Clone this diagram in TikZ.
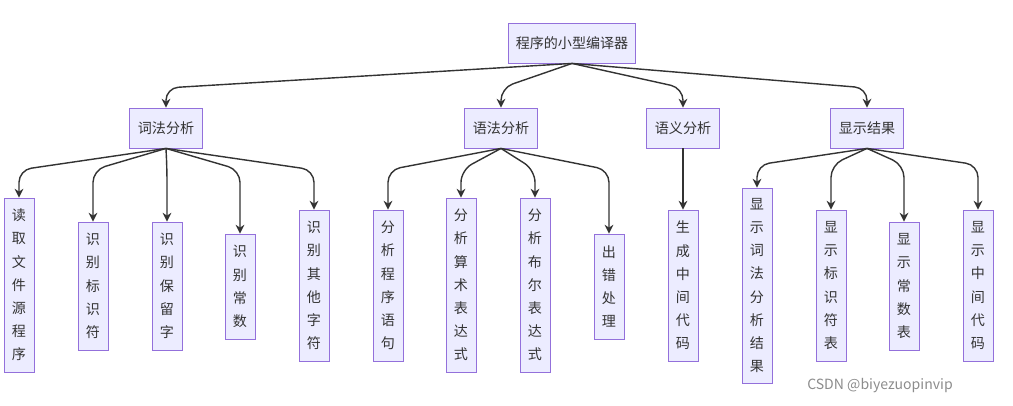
\documentclass[tikz,border=0pt]{standalone}
\usepackage{fontspec}
\setmainfont{Noto Sans CJK SC}
\usetikzlibrary{arrows.meta}
\definecolor{boxfill}{HTML}{ECECFF}
\definecolor{boxline}{HTML}{9370DB}
\definecolor{linkcol}{HTML}{333333}
\newcommand{\edgeto}[3]{\draw[link] (#1.south) -- (#2.north |- 0,#3) -- (#2.north);}

\begin{document}
\begin{tikzpicture}
		% STYLES
		\tikzstyle{box} = [draw=boxline, fill=boxfill, line width=0.5pt, inner sep=0pt, font=\fontsize{8}{13.2}\selectfont, text=linkcol]
		\tikzstyle{head} = [box, minimum width=1.46cm, minimum height=0.8cm]
		\tikzstyle{leaf} = [box, minimum width=0.6cm, minimum height=#1, text width=0.6cm, align=center]
		\tikzstyle{link} = [line width=0.8pt, draw=linkcol, rounded corners=7pt, -{Stealth[length=5pt,width=5pt]}]

		% FOND
		\useasboundingbox (0,0) rectangle (20.26,-8.12);

		% RACINE
		\node[box, minimum width=2.54cm, minimum height=0.8cm] (root) at (11.44,-0.86) {程序的小型编译器};

		% NIVEAU 2
		\node[head] (lex) at (3.32,-2.56) {词法分析};
		\node[head] (syn) at (10.02,-2.56) {语法分析};
		\node[head] (sem) at (13.66,-2.56) {语义分析};
		\node[head] (res) at (17.34,-2.56) {显示结果};

		% FEUILLES
		\node[leaf=3.48cm] (l1) at (0.38,-5.70) {读\\取\\文\\件\\源\\程\\序};
		\node[leaf=2.56cm] (l2) at (1.86,-5.72) {识\\别\\标\\识\\符};
		\node[leaf=2.56cm] (l3) at (3.34,-5.72) {识\\别\\保\\留\\字};
		\node[leaf=2.10cm] (l4) at (4.80,-5.73) {识\\别\\常\\数};
		\node[leaf=3.02cm] (l5) at (6.28,-5.71) {识\\别\\其\\他\\字\\符};
		\node[leaf=3.02cm] (s1) at (7.76,-5.71) {分\\析\\程\\序\\语\\句};
		\node[leaf=3.48cm] (s2) at (9.22,-5.70) {分\\析\\算\\术\\表\\达\\式};
		\node[leaf=3.48cm] (s3) at (10.70,-5.70) {分\\析\\布\\尔\\表\\达\\式};
		\node[leaf=2.10cm] (s4) at (12.18,-5.73) {出\\错\\处\\理};
		\node[leaf=3.02cm] (m1) at (13.66,-5.71) {生\\成\\中\\间\\代\\码};
		\node[leaf=3.90cm] (r1) at (15.14,-5.71) {显\\示\\词\\法\\分\\析\\结\\果};
		\node[leaf=3.02cm] (r2) at (16.62,-5.71) {显\\示\\标\\识\\符\\表};
		\node[leaf=2.56cm] (r3) at (18.08,-5.72) {显\\示\\常\\数\\表};
		\node[leaf=3.02cm] (r4) at (19.56,-5.71) {显\\示\\中\\间\\代\\码};

		% LIENS
		\foreach \c in {lex, syn, sem, res}
			{\edgeto{root}{\c}{-1.76}}
		\foreach \c in {l1, l2, l3, l4, l5}
			{\edgeto{lex}{\c}{-3.4}}
		\foreach \c in {s1, s2, s3, s4}
			{\edgeto{syn}{\c}{-3.4}}
		\draw[link] (sem) -- (m1);
		\foreach \c in {r1, r2, r3, r4}
			{\edgeto{res}{\c}{-3.3}}

		% FILIGRANE
		\node[text=black!45, font=\fontsize{8}{10}\selectfont] (mark) at (17.6,-7.72) {CSDN @biyezuopinvip};
\end{tikzpicture}
\end{document}
